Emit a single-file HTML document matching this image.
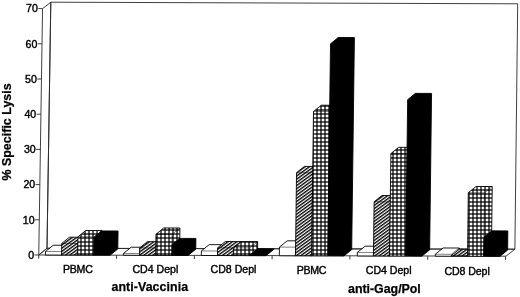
<!DOCTYPE html>
<html><head><meta charset="utf-8"><title>Specific Lysis</title>
<style>
html,body{margin:0;padding:0;background:#fff;}
body{width:520px;height:297px;overflow:hidden;}
svg{display:block;}
text{font-family:"Liberation Sans",sans-serif;fill:#000;stroke:#000;stroke-width:0.4px;paint-order:stroke fill;}
.t{font-size:10.6px;}
.c{font-size:10.6px;}
.b{font-size:12.4px;font-weight:bold;stroke-width:0.25px;}
</style></head><body>
<svg width="520" height="297" viewBox="0 0 520 297">
<defs>
<pattern id="h" width="2.57" height="10" patternUnits="userSpaceOnUse" patternTransform="rotate(54)">
<rect width="2.57" height="10" fill="#fff"/><rect x="0" y="0" width="1.35" height="10" fill="#000"/>
</pattern>
<pattern id="g" width="4" height="4" patternUnits="userSpaceOnUse" x="1" y="2">
<rect width="4" height="4" fill="#000"/><rect x="0.62" y="0.62" width="2.76" height="2.76" fill="#fff"/>
</pattern>
</defs>
<rect width="520" height="297" fill="#fff"/>
<polygon points="47.00,248.30 50.80,2.20 517.70,3.80 514.90,249.20" stroke="#2a2a2a" stroke-width="0.9" fill="none"/>
<polygon points="38.75,255.00 42.56,8.60 50.80,2.20 47.00,248.30" stroke="#2a2a2a" stroke-width="0.9" fill="none"/>
<polygon points="38.75,255.00 506.00,256.20 514.90,249.20 47.00,248.30" stroke="#2a2a2a" stroke-width="0.9" fill="none"/>
<line x1="34.45" y1="254.99" x2="38.75" y2="255.00" stroke="#2a2a2a" stroke-width="0.9"/>
<text x="34.09" y="258.84" text-anchor="end" class="t">0</text>
<line x1="35.00" y1="219.79" x2="39.29" y2="219.80" stroke="#2a2a2a" stroke-width="0.9"/>
<text x="34.64" y="223.64" text-anchor="end" class="t">10</text>
<line x1="35.54" y1="184.59" x2="39.84" y2="184.60" stroke="#2a2a2a" stroke-width="0.9"/>
<text x="35.18" y="188.44" text-anchor="end" class="t">20</text>
<line x1="36.09" y1="149.39" x2="40.38" y2="149.40" stroke="#2a2a2a" stroke-width="0.9"/>
<text x="35.73" y="153.24" text-anchor="end" class="t">30</text>
<line x1="36.63" y1="114.19" x2="40.93" y2="114.20" stroke="#2a2a2a" stroke-width="0.9"/>
<text x="36.27" y="118.04" text-anchor="end" class="t">40</text>
<line x1="37.18" y1="78.99" x2="41.47" y2="79.00" stroke="#2a2a2a" stroke-width="0.9"/>
<text x="36.82" y="82.84" text-anchor="end" class="t">50</text>
<line x1="37.73" y1="43.79" x2="42.02" y2="43.80" stroke="#2a2a2a" stroke-width="0.9"/>
<text x="37.37" y="47.64" text-anchor="end" class="t">60</text>
<line x1="38.27" y1="8.59" x2="42.56" y2="8.60" stroke="#2a2a2a" stroke-width="0.9"/>
<text x="37.91" y="12.44" text-anchor="end" class="t">70</text>
<line x1="38.75" y1="255.00" x2="38.69" y2="258.60" stroke="#2a2a2a" stroke-width="0.9"/>
<line x1="116.55" y1="255.23" x2="116.50" y2="258.83" stroke="#2a2a2a" stroke-width="0.9"/>
<line x1="194.35" y1="255.47" x2="194.30" y2="259.07" stroke="#2a2a2a" stroke-width="0.9"/>
<line x1="272.15" y1="255.70" x2="272.10" y2="259.30" stroke="#2a2a2a" stroke-width="0.9"/>
<line x1="349.95" y1="255.93" x2="349.90" y2="259.53" stroke="#2a2a2a" stroke-width="0.9"/>
<line x1="427.75" y1="256.17" x2="427.71" y2="259.77" stroke="#2a2a2a" stroke-width="0.9"/>
<line x1="505.55" y1="256.40" x2="505.51" y2="260.00" stroke="#2a2a2a" stroke-width="0.9"/>
<polygon points="45.40,255.02 45.45,251.50 53.25,245.22 69.40,245.27 69.35,248.79 61.55,255.07" fill="#fff" stroke="#000" stroke-width="0.9" stroke-linejoin="miter"/>
<polyline points="45.45,251.50 61.60,251.55 61.55,255.07" fill="none" stroke="#000" stroke-width="0.5"/>
<line x1="61.60" y1="251.55" x2="69.40" y2="245.27" stroke="#000" stroke-width="0.5"/>
<polygon points="61.55,255.07 61.73,243.45 69.52,237.18 85.67,237.22 85.49,248.84 77.70,255.12" fill="url(#h)" stroke="#000" stroke-width="0.9" stroke-linejoin="miter"/>
<polyline points="61.73,243.45 77.88,243.50 77.70,255.12" fill="none" stroke="#000" stroke-width="0.5"/>
<line x1="77.88" y1="243.50" x2="85.67" y2="237.22" stroke="#000" stroke-width="0.5"/>
<polygon points="77.70,255.12 77.98,236.81 85.77,230.54 101.92,230.58 101.64,248.89 93.85,255.17" fill="url(#g)" stroke="#000" stroke-width="0.9" stroke-linejoin="miter"/>
<polyline points="77.98,236.81 94.12,236.86 93.85,255.17" fill="none" stroke="#000" stroke-width="0.5"/>
<line x1="94.12" y1="236.86" x2="101.92" y2="230.58" stroke="#000" stroke-width="0.5"/>
<polygon points="93.85,255.17 94.12,237.21 101.91,230.94 118.06,230.99 117.79,248.94 110.00,255.21" fill="#000" stroke="#000" stroke-width="0.9" stroke-linejoin="miter"/>
<polygon points="123.37,255.25 123.40,253.49 131.19,247.22 147.34,247.27 147.31,249.03 139.52,255.30" fill="#fff" stroke="#000" stroke-width="0.9" stroke-linejoin="miter"/>
<polyline points="123.40,253.49 139.55,253.54 139.52,255.30" fill="none" stroke="#000" stroke-width="0.5"/>
<line x1="139.55" y1="253.54" x2="147.34" y2="247.27" stroke="#000" stroke-width="0.5"/>
<polygon points="139.52,255.30 139.63,247.91 147.42,241.63 163.57,241.68 163.46,249.07 155.67,255.35" fill="url(#h)" stroke="#000" stroke-width="0.9" stroke-linejoin="miter"/>
<polyline points="139.63,247.91 155.78,247.96 155.67,255.35" fill="none" stroke="#000" stroke-width="0.5"/>
<line x1="155.78" y1="247.96" x2="163.57" y2="241.68" stroke="#000" stroke-width="0.5"/>
<polygon points="155.67,255.35 155.98,234.23 163.76,227.95 179.91,228.00 179.61,249.12 171.82,255.40" fill="url(#g)" stroke="#000" stroke-width="0.9" stroke-linejoin="miter"/>
<polyline points="155.98,234.23 172.12,234.28 171.82,255.40" fill="none" stroke="#000" stroke-width="0.5"/>
<line x1="172.12" y1="234.28" x2="179.91" y2="228.00" stroke="#000" stroke-width="0.5"/>
<polygon points="171.82,255.40 171.97,244.66 179.76,238.39 195.91,238.44 195.76,249.17 187.97,255.45" fill="#000" stroke="#000" stroke-width="0.9" stroke-linejoin="miter"/>
<polygon points="201.34,255.49 201.40,250.91 209.19,244.64 225.34,244.68 225.28,249.26 217.49,255.54" fill="#fff" stroke="#000" stroke-width="0.9" stroke-linejoin="miter"/>
<polyline points="201.40,250.91 217.55,250.96 217.49,255.54" fill="none" stroke="#000" stroke-width="0.5"/>
<line x1="217.55" y1="250.96" x2="225.34" y2="244.68" stroke="#000" stroke-width="0.5"/>
<polygon points="217.49,255.54 217.60,247.79 225.38,241.52 241.53,241.56 241.43,249.31 233.64,255.58" fill="url(#h)" stroke="#000" stroke-width="0.9" stroke-linejoin="miter"/>
<polyline points="217.60,247.79 233.75,247.84 233.64,255.58" fill="none" stroke="#000" stroke-width="0.5"/>
<line x1="233.75" y1="247.84" x2="241.53" y2="241.56" stroke="#000" stroke-width="0.5"/>
<polygon points="233.64,255.58 233.75,247.84 241.53,241.56 257.68,241.61 257.58,249.36 249.79,255.63" fill="url(#g)" stroke="#000" stroke-width="0.9" stroke-linejoin="miter"/>
<polyline points="233.75,247.84 249.90,247.89 249.79,255.63" fill="none" stroke="#000" stroke-width="0.5"/>
<line x1="249.90" y1="247.89" x2="257.68" y2="241.61" stroke="#000" stroke-width="0.5"/>
<polygon points="249.79,255.63 249.80,255.11 257.58,248.83 273.73,248.88 273.72,249.40 265.94,255.68" fill="#000" stroke="#000" stroke-width="0.9" stroke-linejoin="miter"/>
<polygon points="279.31,255.72 279.43,247.10 287.21,240.82 303.36,240.87 303.24,249.49 295.46,255.77" fill="#fff" stroke="#000" stroke-width="0.9" stroke-linejoin="miter"/>
<polyline points="279.43,247.10 295.57,247.15 295.46,255.77" fill="none" stroke="#000" stroke-width="0.5"/>
<line x1="295.57" y1="247.15" x2="303.36" y2="240.87" stroke="#000" stroke-width="0.5"/>
<polygon points="295.46,255.77 296.56,172.70 304.34,166.42 320.48,166.47 319.39,249.54 311.61,255.82" fill="url(#h)" stroke="#000" stroke-width="0.9" stroke-linejoin="miter"/>
<polyline points="296.56,172.70 312.70,172.75 311.61,255.82" fill="none" stroke="#000" stroke-width="0.5"/>
<line x1="312.70" y1="172.75" x2="320.48" y2="166.47" stroke="#000" stroke-width="0.5"/>
<polygon points="311.61,255.82 313.51,111.50 321.28,105.22 337.41,105.27 335.54,249.59 327.76,255.87" fill="url(#g)" stroke="#000" stroke-width="0.9" stroke-linejoin="miter"/>
<polyline points="313.51,111.50 329.64,111.55 327.76,255.87" fill="none" stroke="#000" stroke-width="0.5"/>
<line x1="329.64" y1="111.55" x2="337.41" y2="105.27" stroke="#000" stroke-width="0.5"/>
<polygon points="327.76,255.87 330.52,43.79 338.28,37.51 354.40,37.56 351.69,249.64 343.91,255.92" fill="#000" stroke="#000" stroke-width="0.9" stroke-linejoin="miter"/>
<polygon points="357.28,255.96 357.32,252.44 365.10,246.16 381.25,246.21 381.21,249.73 373.43,256.00" fill="#fff" stroke="#000" stroke-width="0.9" stroke-linejoin="miter"/>
<polyline points="357.32,252.44 373.47,252.48 373.43,256.00" fill="none" stroke="#000" stroke-width="0.5"/>
<line x1="373.47" y1="252.48" x2="381.25" y2="246.21" stroke="#000" stroke-width="0.5"/>
<polygon points="373.43,256.00 374.11,201.80 381.89,195.52 398.03,195.57 397.36,249.78 389.58,256.05" fill="url(#h)" stroke="#000" stroke-width="0.9" stroke-linejoin="miter"/>
<polyline points="374.11,201.80 390.26,201.84 389.58,256.05" fill="none" stroke="#000" stroke-width="0.5"/>
<line x1="390.26" y1="201.84" x2="398.03" y2="195.57" stroke="#000" stroke-width="0.5"/>
<polygon points="389.58,256.05 390.86,153.62 398.63,147.34 414.76,147.39 413.51,249.82 405.73,256.10" fill="url(#g)" stroke="#000" stroke-width="0.9" stroke-linejoin="miter"/>
<polyline points="390.86,153.62 406.99,153.67 405.73,256.10" fill="none" stroke="#000" stroke-width="0.5"/>
<line x1="406.99" y1="153.67" x2="414.76" y2="147.39" stroke="#000" stroke-width="0.5"/>
<polygon points="405.73,256.10 407.66,99.64 415.43,93.36 431.55,93.41 429.66,249.87 421.88,256.15" fill="#000" stroke="#000" stroke-width="0.9" stroke-linejoin="miter"/>
<polygon points="435.25,256.19 435.27,254.25 443.05,247.98 459.20,248.03 459.17,249.96 451.40,256.24" fill="#fff" stroke="#000" stroke-width="0.9" stroke-linejoin="miter"/>
<polyline points="435.27,254.25 451.42,254.30 451.40,256.24" fill="none" stroke="#000" stroke-width="0.5"/>
<line x1="451.42" y1="254.30" x2="459.20" y2="248.03" stroke="#000" stroke-width="0.5"/>
<polygon points="451.40,256.24 451.41,255.53 459.18,249.26 475.33,249.31 475.32,250.01 467.55,256.29" fill="url(#h)" stroke="#000" stroke-width="0.9" stroke-linejoin="miter"/>
<polyline points="451.41,255.53 467.56,255.58 467.55,256.29" fill="none" stroke="#000" stroke-width="0.5"/>
<line x1="467.56" y1="255.58" x2="475.33" y2="249.31" stroke="#000" stroke-width="0.5"/>
<polygon points="467.55,256.29 468.30,192.75 476.07,186.47 492.21,186.52 491.47,250.06 483.70,256.34" fill="url(#g)" stroke="#000" stroke-width="0.9" stroke-linejoin="miter"/>
<polyline points="468.30,192.75 484.44,192.80 483.70,256.34" fill="none" stroke="#000" stroke-width="0.5"/>
<line x1="484.44" y1="192.80" x2="492.21" y2="186.52" stroke="#000" stroke-width="0.5"/>
<polygon points="483.70,256.34 483.92,237.15 491.70,230.87 507.84,230.92 507.62,250.11 499.85,256.38" fill="#000" stroke="#000" stroke-width="0.9" stroke-linejoin="miter"/>
<text class="b" transform="translate(10.8 180.6) rotate(-90)" textLength="97.3" lengthAdjust="spacing">% Specific Lysis</text>
<text class="c" x="63.0" y="272.6" textLength="29.8">PBMC</text>
<text class="c" x="132.4" y="273.1" textLength="45.9">CD4 Depl</text>
<text class="c" x="210.6" y="273.2" textLength="45.8">CD8 Depl</text>
<text class="c" x="296.8" y="273.5" textLength="29.6">PBMC</text>
<text class="c" x="365.8" y="274.0" textLength="45.8">CD4 Depl</text>
<text class="c" x="444.4" y="275.0" textLength="45.4">CD8 Depl</text>
<text class="b" x="111.5" y="291.2" textLength="76.6">anti-Vaccinia</text>
<text class="b" x="348.0" y="292.7" textLength="72.8">anti-Gag/Pol</text>
</svg>
</body></html>
